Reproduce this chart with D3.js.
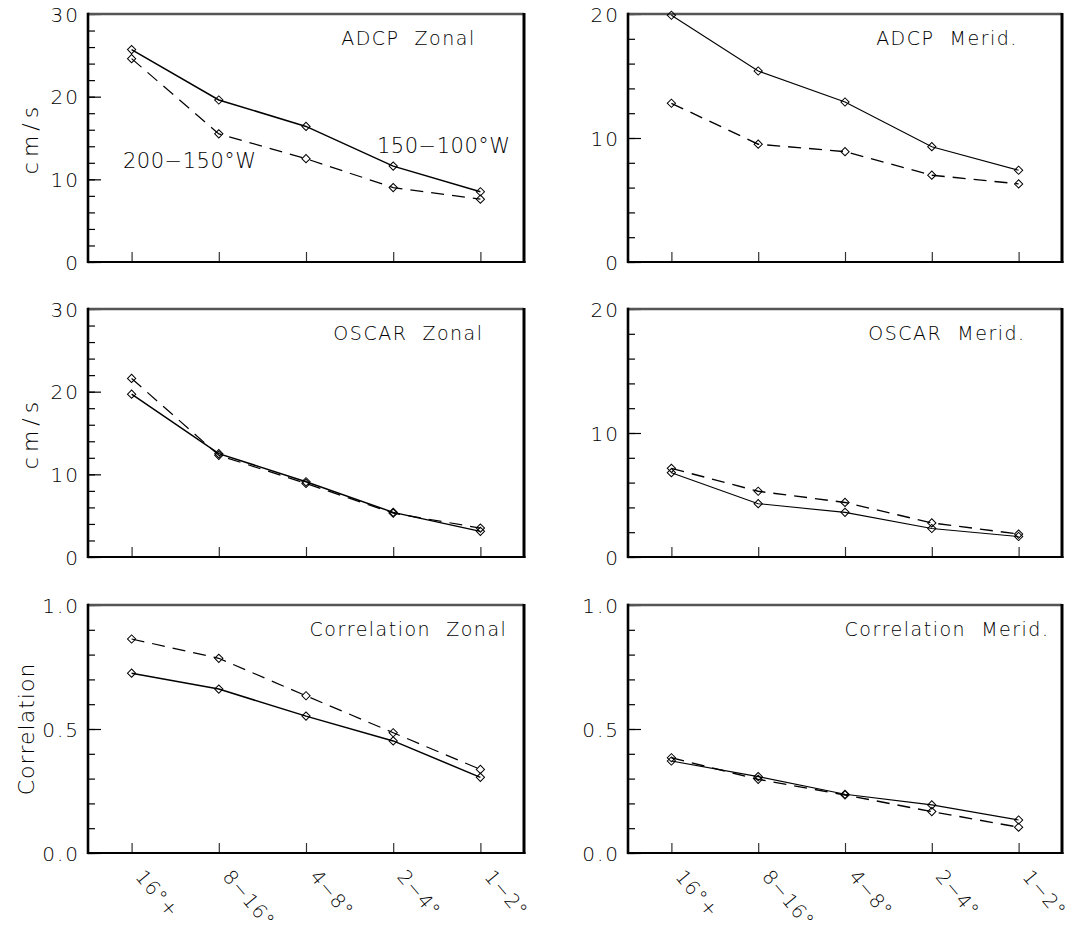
<!DOCTYPE html>
<html>
<head>
<meta charset="utf-8">
<script src="https://cdn.jsdelivr.net/npm/d3@7"></script>
<style>
  html, body { margin: 0; padding: 0; background: #fff; }
  svg { display: block; }
  text { font-family: "DejaVu Sans", sans-serif; font-weight: 200; fill: #000; white-space: pre; }
</style>
</head>
<body>
<svg id="chart" width="1073" height="938"></svg>
<script>
// ---- data ----
const categories = ["16°+", "8−16°", "4−8°", "2−4°", "1−2°"];
// solid = 150−100°W, dashed = 200−150°W
const adcpZonalEast  = [25.7, 19.6, 16.4, 11.6, 8.5];
const adcpZonalWest  = [24.6, 15.5, 12.5, 9.0, 7.6];
const adcpMeridEast  = [19.9, 15.4, 12.9, 9.3, 7.4];
const adcpMeridWest  = [12.8, 9.5, 8.9, 7.0, 6.3];
const oscarZonalEast = [19.7, 12.5, 9.1, 5.4, 3.1];
const oscarZonalWest = [21.6, 12.3, 8.9, 5.3, 3.5];
const oscarMeridEast = [6.8, 4.3, 3.6, 2.3, 1.65];
const oscarMeridWest = [7.15, 5.3, 4.4, 2.75, 1.85];
const corrZonalEast  = [0.725, 0.661, 0.552, 0.452, 0.305];
const corrZonalWest  = [0.863, 0.785, 0.634, 0.485, 0.337];
const corrMeridEast  = [0.371, 0.308, 0.237, 0.194, 0.133];
const corrMeridWest  = [0.384, 0.297, 0.234, 0.167, 0.104];

const panelTitles = ["ADCP  Zonal", "ADCP  Merid.", "OSCAR  Zonal", "OSCAR  Merid.", "Correlation  Zonal", "Correlation  Merid."];
const yLabels = ["cm/s", "cm/s", "Correlation"];
const speedZonalTicks = [0, 10, 20, 30];
const speedMeridTicks = [0, 10, 20];
const corrTicks = [0.0, 0.5, 1.0];
const seriesLabels = ["200−150°W", "150−100°W"];

// ---- layout ----
const svg = d3.select("#chart");
const colX = [88, 628];
const colW = [436, 434];
const rowY = [14, 309, 605];
const ph = 248;

const panels = [
  {r:0, c:0, title: panelTitles[0], max: 30, minor: 2, major: speedZonalTicks, fmt: d3.format("d"), east: adcpZonalEast, west: adcpZonalWest},
  {r:0, c:1, title: panelTitles[1], max: 20, minor: 2, major: speedMeridTicks, fmt: d3.format("d"), east: adcpMeridEast, west: adcpMeridWest},
  {r:1, c:0, title: panelTitles[2], max: 30, minor: 2, major: speedZonalTicks, fmt: d3.format("d"), east: oscarZonalEast, west: oscarZonalWest},
  {r:1, c:1, title: panelTitles[3], max: 20, minor: 2, major: speedMeridTicks, fmt: d3.format("d"), east: oscarMeridEast, west: oscarMeridWest},
  {r:2, c:0, title: panelTitles[4], max: 1, minor: 0.1, major: corrTicks, fmt: d3.format(".1f"), east: corrZonalEast, west: corrZonalWest},
  {r:2, c:1, title: panelTitles[5], max: 1, minor: 0.1, major: corrTicks, fmt: d3.format(".1f"), east: corrMeridEast, west: corrMeridWest}
];

const diamond = d3.symbol().type(d3.symbolSquare).size(34)();

panels.forEach(p => {
  const pw = colW[p.c];
  const g = svg.append("g").attr("transform", `translate(${colX[p.c]},${rowY[p.r]})`);
  const x = d3.scalePoint().domain(categories).range([0, pw]).padding(0.5);
  const y = d3.scaleLinear().domain([0, p.max]).range([ph, 0]);

  // minor y ticks
  const minorVals = d3.range(0, p.max + p.minor/2, p.minor).map(v => +v.toFixed(3));
  const yMinor = g.append("g").call(d3.axisLeft(y).tickValues(minorVals).tickSize(-7).tickFormat(""));
  yMinor.select(".domain").remove();
  yMinor.selectAll("line").attr("stroke", "#000").attr("stroke-width", 1.2);

  // major y ticks + labels
  const yMajor = g.append("g").call(d3.axisLeft(y).tickValues(p.major).tickSize(-13).tickPadding(8).tickFormat(p.fmt));
  yMajor.select(".domain").remove();
  yMajor.selectAll("line").attr("stroke", "#000").attr("stroke-width", 1.2);
  yMajor.selectAll("text")
    .attr("font-size", 20).attr("font-family", null).attr("letter-spacing", "2px")
    .attr("dy", "0.36em");

  // x ticks
  const xAx = g.append("g").attr("transform", `translate(0,${ph})`)
    .call(d3.axisBottom(x).tickSize(-10).tickFormat(""));
  xAx.select(".domain").remove();
  xAx.selectAll("line").attr("stroke", "#333").attr("stroke-width", 1.2);

  if (p.r === 2) {
    g.selectAll(".xlab").data(categories).enter().append("text")
      .attr("class", "xlab")
      .attr("transform", d => `translate(${x(d) + 3},${ph + 24}) rotate(50)`)
      .attr("font-size", 19.5)
      .attr("letter-spacing", "1px")
      .text(d => d);
  }

  // frame
  g.append("line").attr("x1", 0).attr("x2", pw).attr("y1", 0).attr("y2", 0).attr("stroke", "#555").attr("stroke-width", 2.6);
  g.append("line").attr("x1", pw).attr("x2", pw).attr("y1", -1).attr("y2", ph + 1).attr("stroke", "#000").attr("stroke-width", 3);
  g.append("line").attr("x1", 0).attr("x2", pw + 1.5).attr("y1", ph).attr("y2", ph).attr("stroke", "#000").attr("stroke-width", 2.2);
  g.append("line").attr("x1", 0).attr("x2", 0).attr("y1", -1.3).attr("y2", ph + 1.1).attr("stroke", "#000").attr("stroke-width", 2.6);

  // series
  const line = d3.line().x((d, i) => x(categories[i])).y(d => y(d));
  const solidW = p.c === 0 ? 1.5 : 1.1;
  const dashW = p.c === 0 ? 1.2 : 1.4;
  g.append("path").datum(p.west).attr("d", line).attr("fill", "none")
    .attr("stroke", "#000").attr("stroke-width", dashW).attr("stroke-dasharray", "13,8");
  g.append("path").datum(p.east).attr("d", line).attr("fill", "none")
    .attr("stroke", "#000").attr("stroke-width", solidW);
  [p.west, p.east].forEach(s => {
    g.selectAll(null).data(s).enter().append("path")
      .attr("d", diamond)
      .attr("transform", (d, i) => `translate(${x(categories[i])},${y(d)}) rotate(45)`)
      .attr("fill", "none").attr("stroke", "#000").attr("stroke-width", 1);
  });

  // title
  g.append("text").attr("x", pw * 0.735).attr("y", 31)
    .attr("text-anchor", "middle").attr("font-size", 19).attr("letter-spacing", "1.5px")
    .text(p.title);

  // y label
  if (p.c === 0) {
    const lab = yLabels[p.r];
    g.append("text")
      .attr("transform", `translate(${(lab === "cm/s" ? 38 : 34) - colX[0]},${ph / 2}) rotate(-90)`)
      .attr("text-anchor", "middle").attr("font-size", 22)
      .attr("letter-spacing", lab === "cm/s" ? "5px" : "1px")
      .text(lab);
  }

  // series annotations (top-left only)
  if (p.r === 0 && p.c === 0) {
    g.append("text").attr("x", 35).attr("y", 154).attr("font-size", 21).attr("letter-spacing", "0.5px").text(seriesLabels[0]);
    g.append("text").attr("x", 289).attr("y", 139).attr("font-size", 21).attr("letter-spacing", "0.5px").text(seriesLabels[1]);
  }
});
</script>
</body>
</html>
